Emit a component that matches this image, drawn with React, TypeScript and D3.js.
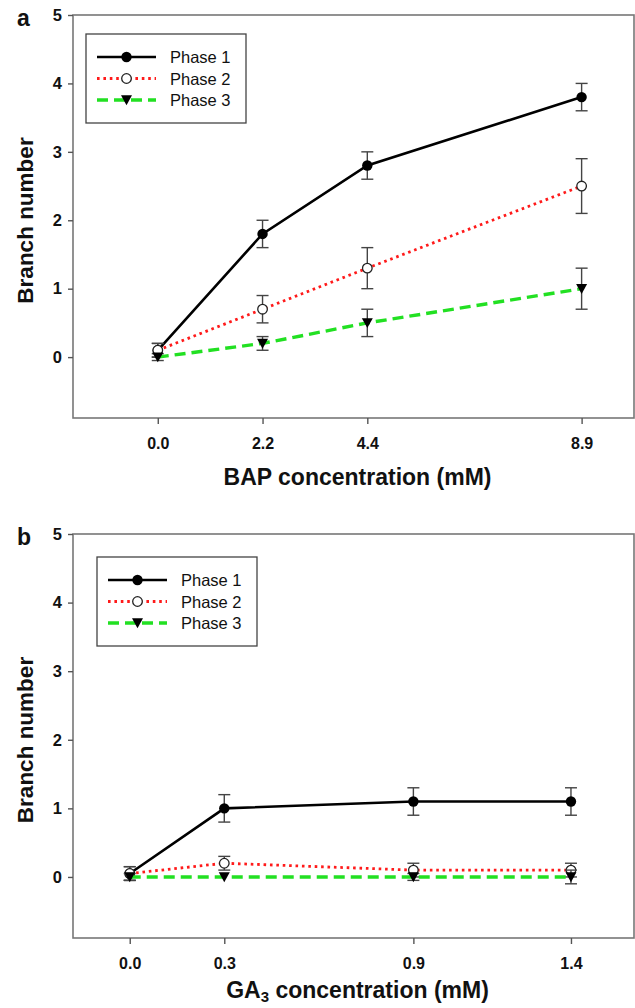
import React, { useEffect, useRef } from "react";
import * as d3 from "d3";

const W = 635;
const H = 1008;

// panel a - BAP
const bapX = [0, 2.2, 4.4, 8.9];
const bapPhase1 = [0.1, 1.8, 2.8, 3.8];
const bapPhase1Err = [0.1, 0.2, 0.2, 0.2];
const bapPhase2 = [0.1, 0.7, 1.3, 2.5];
const bapPhase2Err = [0.1, 0.2, 0.3, 0.4];
const bapPhase3 = [0, 0.2, 0.5, 1.0];
const bapPhase3Err = [0.05, 0.1, 0.2, 0.3];

// panel b - GA3
const gaX = [0, 0.3, 0.9, 1.4];
const gaPhase1 = [0.05, 1.0, 1.1, 1.1];
const gaPhase1Err = [0.1, 0.2, 0.2, 0.2];
const gaPhase2 = [0.05, 0.2, 0.1, 0.1];
const gaPhase2Err = [0.1, 0.1, 0.1, 0.1];
const gaPhase3 = [0, 0, 0, 0];
const gaPhase3Err = [0.05, 0, 0.05, 0.1];

const seriesNames = ["Phase 1", "Phase 2", "Phase 3"];
const yTicks = [0, 1, 2, 3, 4, 5];

const FONT = "Arial, 'Liberation Sans', Helvetica, sans-serif";

const styles = [
    { color: "#000", dash: null, width: 2.6, symbol: "filled" },
    { color: "#ff1a1a", dash: "2.6,3.8", width: 2.8, symbol: "open" },
    { color: "#22e022", dash: "11,6", width: 3.4, symbol: "triangle" },
];

function drawSymbol(g, kind, cx, cy) {
    if (kind === "filled") {
        g.append("circle").attr("cx", cx).attr("cy", cy).attr("r", 5.2)
            .attr("fill", "#000");
    } else if (kind === "open") {
        g.append("circle").attr("cx", cx).attr("cy", cy).attr("r", 4.8)
            .attr("fill", "#fff").attr("stroke", "#222").attr("stroke-width", 1.3);
    } else {
        const s = 5.5;
        g.append("path")
            .attr("d", `M${cx - s},${cy - s * 0.85}L${cx + s},${cy - s * 0.85}L${cx},${cy + s * 0.95}Z`)
            .attr("fill", "#000");
    }
}

function drawPanel(svg, cfg) {
    const { xs, series, errs, xDomain, top, bottom, left, right, letter, legend, xLabel, titleDy } = cfg;
    const g = svg.append("g");

    const x = d3.scaleLinear().domain(xDomain).range([left, right]);
    const y = d3.scaleLinear().domain([-0.89, 5]).range([bottom, top]);

    // frame
    g.append("rect")
        .attr("x", left).attr("y", top)
        .attr("width", right - left).attr("height", bottom - top)
        .attr("fill", "none").attr("stroke", "#777").attr("stroke-width", 1.6);

    // axes
    g.append("g")
        .attr("transform", `translate(0,${bottom})`)
        .call(d3.axisBottom(x).tickValues(xs).tickSize(6).tickPadding(14).tickFormat(d3.format(".1f")))
        .call(a => a.select(".domain").remove())
        .call(a => a.selectAll("line").attr("stroke", "#555").attr("stroke-width", 1.4))
        .call(a => a.selectAll("text").attr("font-family", FONT).attr("font-size", 16)
            .attr("font-weight", "bold").attr("fill", "#111"));

    g.append("g")
        .attr("transform", `translate(${left},0)`)
        .call(d3.axisLeft(y).tickValues(yTicks).tickSize(5).tickPadding(6).tickFormat(d3.format("d")))
        .call(a => a.select(".domain").remove())
        .call(a => a.selectAll("line").attr("stroke", "#555").attr("stroke-width", 1.4))
        .call(a => a.selectAll("text").attr("font-family", FONT).attr("font-size", 16.5)
            .attr("font-weight", "bold").attr("fill", "#111"));

    // axis titles
    const xt = g.append("text")
        .attr("x", (left + right) / 2 + 4).attr("y", bottom + titleDy)
        .attr("text-anchor", "middle")
        .attr("font-family", FONT).attr("font-size", 23).attr("font-weight", "bold")
        .attr("fill", "#111");
    xLabel(xt);

    g.append("text")
        .attr("transform", `translate(33,${(top + bottom) / 2 + 4}) rotate(-90)`)
        .attr("text-anchor", "middle")
        .attr("font-family", FONT).attr("font-size", 22.5).attr("font-weight", "bold")
        .attr("fill", "#111")
        .text("Branch number");

    g.append("text")
        .attr("x", 17).attr("y", top + 11)
        .attr("font-family", FONT).attr("font-size", 23).attr("font-weight", "bold")
        .attr("fill", "#111")
        .text(letter);

    const line = d3.line()
        .x((d, i) => x(xs[i]))
        .y(d => y(d));

    series.forEach((vals, si) => {
        const st = styles[si];
        const sg = g.append("g");
        const p = sg.append("path")
            .attr("d", line(vals))
            .attr("fill", "none")
            .attr("stroke", st.color)
            .attr("stroke-width", st.width);
        if (st.dash) p.attr("stroke-dasharray", st.dash);

        vals.forEach((v, i) => {
            const e = errs[si][i];
            if (e > 0) {
                const cx = x(xs[i]);
                sg.append("line").attr("x1", cx).attr("x2", cx)
                    .attr("y1", y(v - e)).attr("y2", y(v + e))
                    .attr("stroke", "#444").attr("stroke-width", 1.4);
                [v - e, v + e].forEach(ev => {
                    sg.append("line").attr("x1", cx - 6).attr("x2", cx + 6)
                        .attr("y1", y(ev)).attr("y2", y(ev))
                        .attr("stroke", "#444").attr("stroke-width", 1.4);
                });
            }
        });
        vals.forEach((v, i) => drawSymbol(sg, st.symbol, x(xs[i]), y(v)));
    });

    // legend
    const lg = g.append("g");
    lg.append("rect")
        .attr("x", legend.x).attr("y", legend.y)
        .attr("width", 160).attr("height", 89)
        .attr("fill", "#fff").attr("stroke", "#444").attr("stroke-width", 1.3);
    seriesNames.forEach((name, si) => {
        const st = styles[si];
        const ly = legend.y + 23 + si * 21.5;
        const lx0 = legend.x + 11;
        const lx1 = legend.x + 70;
        const l = lg.append("line")
            .attr("x1", lx0).attr("x2", lx1).attr("y1", ly).attr("y2", ly)
            .attr("stroke", st.color).attr("stroke-width", st.width);
        if (st.dash) l.attr("stroke-dasharray", st.dash);
        drawSymbol(lg, st.symbol, (lx0 + lx1) / 2, ly);
        lg.append("text")
            .attr("x", legend.x + 84).attr("y", ly + 6)
            .attr("font-family", FONT).attr("font-size", 16.5)
            .attr("fill", "#111")
            .text(name);
    });
}

export default function App() {
    const ref = useRef(null);

    useEffect(() => {
        const svg = d3.select(ref.current);
        svg.selectAll("*").remove();

        drawPanel(svg, {
            xs: bapX,
            series: [bapPhase1, bapPhase2, bapPhase3],
            errs: [bapPhase1Err, bapPhase2Err, bapPhase3Err],
            xDomain: [-1.78, 10],
            top: 15, bottom: 418, left: 73, right: 634,
            letter: "a",
            legend: { x: 86, y: 34 },
            titleDy: 67,
            xLabel: t => t.text("BAP concentration (mM)"),
        });

        drawPanel(svg, {
            xs: gaX,
            series: [gaPhase1, gaPhase2, gaPhase3],
            errs: [gaPhase1Err, gaPhase2Err, gaPhase3Err],
            xDomain: [-0.18, 1.6],
            top: 534, bottom: 938, left: 73, right: 634,
            letter: "b",
            legend: { x: 97, y: 557 },
            titleDy: 60,
            xLabel: t => {
                t.append("tspan").text("GA");
                t.append("tspan").attr("font-size", 15).attr("dy", 4).text("3");
                t.append("tspan").attr("dy", -4).text(" concentration (mM)");
            },
        });
    }, []);

    return (
        <svg
            ref={ref}
            width={W}
            height={H}
            style={{ position: "absolute", left: 0, top: 0, background: "#fff" }}
        />
    );
}
